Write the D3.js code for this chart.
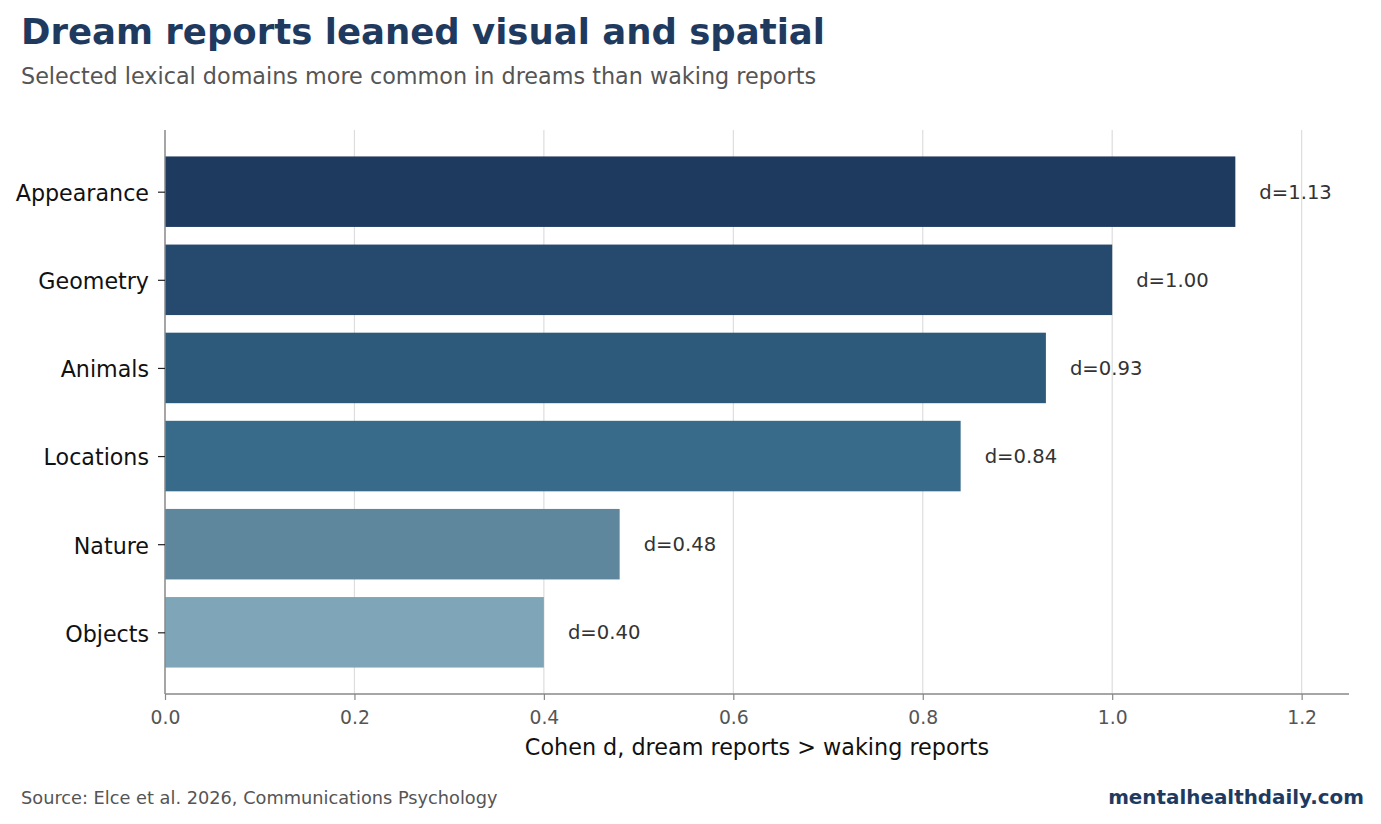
<!DOCTYPE html>
<html>
<head>
<meta charset="utf-8">
<script src="https://cdn.jsdelivr.net/npm/d3@7"></script>
<style>
    body { margin: 0; background: #fff; }
    svg { font-family: "DejaVu Sans", sans-serif; display: block; }
</style>
</head>
<body>
<div id="chart"></div>
<script>
// data
var domains = ["Appearance", "Geometry", "Animals", "Locations", "Nature", "Objects"];
var cohenD = [1.13, 1.00, 0.93, 0.84, 0.48, 0.40];
var barColors = ["#1f3a5f", "#264a6e", "#2d5a7b", "#386b8a", "#5e869c", "#7fa5b8"];
var xTicks = [0.0, 0.2, 0.4, 0.6, 0.8, 1.0, 1.2];

var W = 1381, H = 824;
var plotLeft = 165, plotRight = 1349, plotTop = 130, plotBottom = 694;

var svg = d3.select("#chart").append("svg")
    .attr("width", W)
    .attr("height", H);

var x = d3.scaleLinear().domain([0, 1.25]).range([plotLeft, plotRight]);
var y = d3.scaleLinear().domain([-0.7, domains.length - 0.3]).range([plotTop, plotBottom]);
var bandH = (y(1) - y(0)) * 0.8;

// title block
svg.append("text")
    .attr("x", 21).attr("y", 44)
    .attr("font-size", 35.5).attr("font-weight", "bold")
    .attr("fill", "#1f3a5f")
    .text("Dream reports leaned visual and spatial");
svg.append("text")
    .attr("x", 21).attr("y", 84)
    .attr("font-size", 22.3).attr("fill", "#555")
    .text("Selected lexical domains more common in dreams than waking reports");

// grid
svg.append("g").selectAll("line")
    .data(xTicks.slice(1))
    .enter().append("line")
    .attr("x1", function(d){ return x(d); })
    .attr("x2", function(d){ return x(d); })
    .attr("y1", plotTop).attr("y2", plotBottom)
    .attr("stroke", "#dddddd").attr("stroke-width", 1.2);

// bars
svg.append("g").selectAll("rect")
    .data(domains)
    .enter().append("rect")
    .attr("x", x(0))
    .attr("y", function(d, i){ return y(i) - bandH / 2; })
    .attr("width", function(d, i){ return x(cohenD[i]) - x(0); })
    .attr("height", bandH)
    .attr("fill", function(d, i){ return barColors[i]; });

// value labels
svg.append("g").selectAll("text")
    .data(domains)
    .enter().append("text")
    .attr("x", function(d, i){ return x(cohenD[i]) + 24; })
    .attr("y", function(d, i){ return y(i); })
    .attr("dy", "0.35em")
    .attr("font-size", 19.6).attr("fill", "#333")
    .text(function(d, i){ return "d=" + cohenD[i].toFixed(2); });

// x axis
var xAxis = svg.append("g")
    .attr("transform", "translate(0," + plotBottom + ")")
    .call(d3.axisBottom(x).tickValues(xTicks).tickFormat(d3.format(".1f")).tickSize(6).tickPadding(11));
xAxis.select(".domain").attr("stroke", "#888").attr("stroke-width", 1.5)
    .attr("d", "M" + plotLeft + ",0H" + plotRight);
xAxis.selectAll(".tick line").attr("stroke", "#888").attr("stroke-width", 1.2);
xAxis.selectAll(".tick text").attr("font-size", 18.8).attr("fill", "#555")
    .attr("font-family", "DejaVu Sans");

// y axis
var yAxis = svg.append("g")
    .attr("transform", "translate(" + plotLeft + ",0)")
    .call(d3.axisLeft(y).tickValues(d3.range(domains.length))
        .tickFormat(function(i){ return domains[i]; }).tickSize(7).tickPadding(9));
yAxis.select(".domain").attr("stroke", "#888").attr("stroke-width", 1.5)
    .attr("d", "M0," + plotTop + "V" + plotBottom);
yAxis.selectAll(".tick line").attr("stroke", "#222").attr("stroke-width", 1.2);
yAxis.selectAll(".tick text").attr("font-size", 22.2).attr("fill", "#111")
    .attr("dy", "0.4em")
    .attr("font-family", "DejaVu Sans");

// axis title
svg.append("text")
    .attr("x", (plotLeft + plotRight) / 2).attr("y", 755)
    .attr("text-anchor", "middle")
    .attr("font-size", 22.3).attr("fill", "#111")
    .text("Cohen d, dream reports > waking reports");

// footer
svg.append("text")
    .attr("x", 21).attr("y", 804)
    .attr("font-size", 17.75).attr("fill", "#555")
    .text("Source: Elce et al. 2026, Communications Psychology");
svg.append("text")
    .attr("x", 1364).attr("y", 804)
    .attr("text-anchor", "end")
    .attr("font-size", 19.9).attr("font-weight", "bold").attr("fill", "#1f3a5f")
    .text("mentalhealthdaily.com");
</script>
</body>
</html>
